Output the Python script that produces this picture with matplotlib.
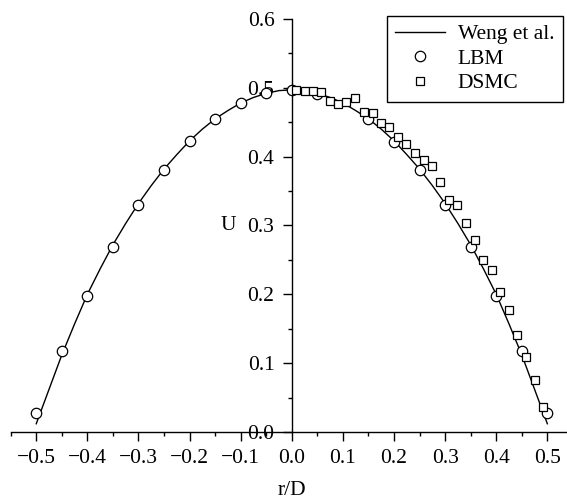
"""
Velocity profile U versus r/D: Weng et al. curve compared with LBM and DSMC results.
"""

import matplotlib
matplotlib.use("Agg")
import matplotlib.pyplot as plt
from matplotlib.ticker import MultipleLocator

# Weng et al. reference curve
weng_r = [-0.5, -0.475, -0.45, -0.425, -0.4, -0.375, -0.35, -0.325, -0.3, -0.275,
          -0.25, -0.225, -0.2, -0.175, -0.15, -0.125, -0.1, -0.075, -0.05, -0.025,
          0.0, 0.025, 0.05, 0.075, 0.1, 0.125, 0.15, 0.175, 0.2, 0.225,
          0.25, 0.275, 0.3, 0.325, 0.35, 0.375, 0.4, 0.425, 0.45, 0.475, 0.5]
weng_u = [0.012, 0.062, 0.112, 0.157, 0.200, 0.237, 0.272, 0.303, 0.332, 0.358,
          0.382, 0.403, 0.423, 0.440, 0.455, 0.467, 0.478, 0.486, 0.492, 0.496,
          0.497, 0.496, 0.492, 0.486, 0.478, 0.467, 0.455, 0.440, 0.423, 0.403,
          0.382, 0.358, 0.332, 0.303, 0.272, 0.237, 0.200, 0.157, 0.112, 0.062, 0.012]

# LBM results
lbm_r = [-0.5, -0.45, -0.4, -0.35, -0.3, -0.25, -0.2, -0.15, -0.1, -0.05,
         0.0, 0.05, 0.15, 0.2, 0.25, 0.3, 0.35, 0.4, 0.45, 0.5]
lbm_u = [0.028, 0.118, 0.198, 0.269, 0.330, 0.381, 0.423, 0.455, 0.478, 0.492,
         0.497, 0.491, 0.455, 0.422, 0.381, 0.330, 0.269, 0.198, 0.118, 0.028]

# DSMC results
dsmc_r = [0.008, 0.025, 0.042, 0.057, 0.074, 0.091, 0.107, 0.124, 0.141, 0.158,
          0.174, 0.190, 0.207, 0.224, 0.241, 0.258, 0.275, 0.290, 0.307, 0.324,
          0.341, 0.358, 0.374, 0.391, 0.408, 0.424, 0.441, 0.458, 0.475, 0.491]
dsmc_u = [0.497, 0.496, 0.496, 0.494, 0.481, 0.476, 0.480, 0.485, 0.465, 0.463,
          0.449, 0.443, 0.428, 0.418, 0.406, 0.395, 0.386, 0.363, 0.337, 0.330,
          0.304, 0.279, 0.250, 0.235, 0.203, 0.177, 0.141, 0.109, 0.076, 0.036]

x_ticks = [-0.5, -0.4, -0.3, -0.2, -0.1, 0.0, 0.1, 0.2, 0.3, 0.4, 0.5]
y_ticks = [0.0, 0.1, 0.2, 0.3, 0.4, 0.5, 0.6]


def main():
    plt.rcParams["font.family"] = ["Liberation Serif", "DejaVu Serif"]
    plt.rcParams["axes.unicode_minus"] = True

    fig = plt.figure(figsize=(5.67, 4.99), dpi=100)
    W, H = 567.0, 499.0
    ax = fig.add_axes([10.7 / W, 67.0 / H, 562.2 / W, 413.0 / H])

    ax.plot(weng_r, weng_u, color="black", lw=1.0, label="Weng et al.", zorder=2)
    ax.plot(lbm_r, lbm_u, ls="none", marker="o", ms=7.5, mfc="white",
            mec="black", mew=0.9, label="LBM", zorder=3)
    ax.plot(dsmc_r, dsmc_u, ls="none", marker="s", ms=5.8, mfc="white",
            mec="black", mew=0.9, label="DSMC", zorder=4)

    ax.set_xlim(-0.55, 0.55)
    ax.set_ylim(0.0, 0.6)

    # spines crossing at the origin
    ax.spines["left"].set_position(("data", 0.0))
    ax.spines["bottom"].set_position(("data", 0.0))
    ax.spines["right"].set_visible(False)
    ax.spines["top"].set_visible(False)
    for s in ("left", "bottom"):
        ax.spines[s].set_linewidth(1.0)

    ax.set_xticks(x_ticks)
    ax.set_yticks(y_ticks)
    ax.set_xticklabels([f"{v:.1f}".replace("-", "\u2212") for v in x_ticks])
    ax.set_yticklabels([f"{v:.1f}" for v in y_ticks])
    ax.xaxis.set_minor_locator(MultipleLocator(0.05))
    ax.yaxis.set_minor_locator(MultipleLocator(0.05))
    ax.tick_params(which="major", direction="out", length=6.5, width=1.0,
                   labelsize=15.5, pad=6)
    ax.tick_params(which="minor", direction="out", length=3, width=1.0)

    ax.set_xlabel("r/D", fontsize=15.5)
    ax.xaxis.set_label_coords(0.0, -0.071, transform=ax.transData)
    ax.set_ylabel("U", fontsize=15.5, rotation=0, ha="center", va="center")
    ax.yaxis.set_label_coords(-0.1246, 0.3, transform=ax.transData)

    leg = ax.legend(loc="upper left", bbox_to_anchor=(386.7 / W, 483.3 / H),
                    bbox_transform=fig.transFigure, fontsize=15.5, frameon=True,
                    fancybox=False, framealpha=1, edgecolor="black",
                    handlelength=2.3, handletextpad=0.6, labelspacing=0.2,
                    borderpad=0.4, borderaxespad=0)
    leg.get_frame().set_linewidth(1.0)

    fig.savefig("out.png", dpi=100)


if __name__ == "__main__":
    main()
